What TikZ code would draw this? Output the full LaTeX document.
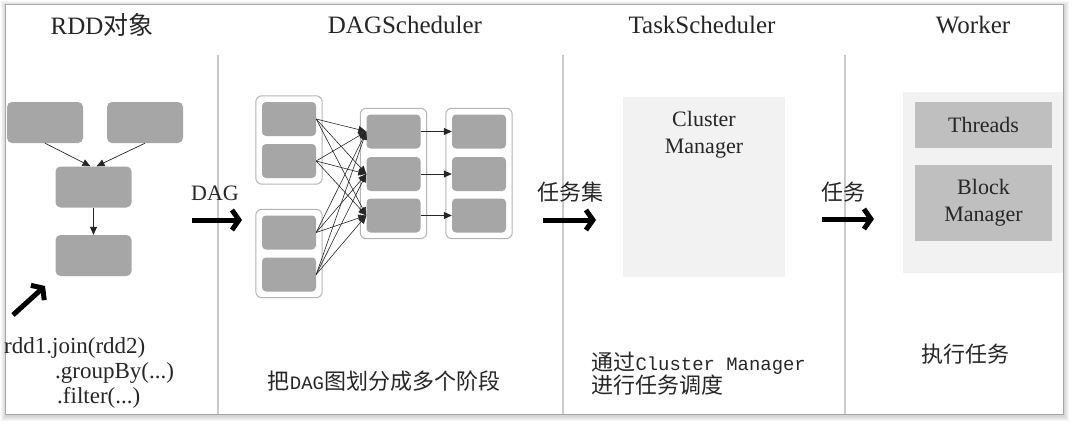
\documentclass[tikz,border=0pt]{standalone}
\usepackage{fontspec}
\setmainfont{Liberation Serif}
\newfontfamily\cjk{Noto Sans CJK SC}
\newfontfamily\halfmono{Liberation Mono}[Scale=0.86]
\usetikzlibrary{arrows.meta,positioning,calc,fit}
\definecolor{boxgray}{HTML}{A6A6A6}
\definecolor{softgray}{HTML}{BFBFBF}
\definecolor{panelgray}{HTML}{F2F2F2}
\definecolor{edgegray}{HTML}{B4B4B4}
\definecolor{sepgray}{HTML}{CACACA}
\definecolor{ink}{HTML}{262626}

\tikzset{
  rddbox/.style={fill=boxgray,rounded corners=5pt,minimum width=76pt,minimum height=41pt,inner sep=0pt},
  taskbox/.style={fill=boxgray,rounded corners=4pt,minimum width=54pt,minimum height=34pt,inner sep=0pt},
  stagebox/.style={draw=edgegray,line width=1pt,rounded corners=6pt,inner sep=6pt},
  link/.style={draw=black!85,line width=0.7pt,-{Triangle[length=8pt,width=7pt]}},
  bigarrow/.style={line width=5pt,-{Straight Barb[length=7pt,width=20pt]}},
  title/.style={font=\fontsize{25}{28}\selectfont,text=ink},
  txt/.style={font=\fontsize{22}{27}\selectfont,text=ink},
  cjktxt/.style={font=\fontsize{22}{25}\selectfont\cjk,text=ink}
}

\begin{document}
\begin{tikzpicture}[x=1pt,y=-1pt]
\useasboundingbox (0,0) rectangle (1073,428);

% frame and shadow
\foreach \w in {2,4,6,8,10}
  \draw[black,opacity=0.035,line width=\w pt] (6,6) rectangle (1064,416);
\draw[fill=white,draw=black!35,line width=1pt] (5,5) rectangle (1063,414);

% column separators
\draw[sepgray,line width=1.5pt] (218,55) -- (218,414);
\draw[sepgray,line width=1.5pt] (563,55) -- (563,414);
\draw[sepgray,line width=1.5pt] (845,55) -- (845,414);

% titles
\node[title] (tRDD)  at (102,25) {RDD{\cjk 对象}};
\node[title] (tDAG)  at (405,25) {DAGScheduler};
\node[title] (tTask) at (702,25) {TaskScheduler};
\node[title] (tWork) at (973,25) {Worker};

% RDD objects
\node[rddbox] (rddA) at (45,122.5) {};
\node[rddbox] (rddB) at (145,122.5) {};
\node[rddbox] (rddC) at (93.5,187) {};
\node[rddbox] (rddD) at (93.5,255.5) {};
\draw[link] (rddA.south) -- ([xshift=-3pt]rddC.north);
\draw[link] (rddB.south) -- ([xshift=3pt]rddC.north);
\draw[link] (rddC) -- (rddD);

\coordinate (codeTail) at (13,315);
\coordinate (codeHead) at (45,286);
\draw[bigarrow] (codeTail) -- (codeHead);
\node[txt,font=\fontsize{23}{25}\selectfont,anchor=west,inner sep=0pt] (code1) at (4,348) {rdd1.join(rdd2)};
\node[txt,font=\fontsize{23}{25}\selectfont,anchor=west,inner sep=0pt] (code2) at (55,373) {.groupBy(...)};
\node[txt,font=\fontsize{23}{25}\selectfont,anchor=west,inner sep=0pt] (code3) at (57,398) {.filter(...)};

% DAG arrow
\node[txt] (lDAG) at (215,193) {DAG};
\coordinate (dagTail) at (192,220);
\coordinate (dagHead) at (242,220);
\draw[bigarrow] (dagTail) -- (dagHead);

% stages
\node[taskbox] (a1) at (289,119) {};
\node[taskbox] (a2) at (289,161) {};
\node[taskbox] (b1) at (289,232.5) {};
\node[taskbox] (b2) at (289,274.5) {};
\node[taskbox] (c1) at (393.5,131.5) {};
\node[taskbox] (c2) at (393.5,174) {};
\node[taskbox] (c3) at (393.5,215.5) {};
\node[taskbox] (d1) at (479,131.5) {};
\node[taskbox] (d2) at (479,174) {};
\node[taskbox] (d3) at (479,215.5) {};
\node[stagebox,fit=(a1)(a2)] (stA) {};
\node[stagebox,fit=(b1)(b2)] (stB) {};
\node[stagebox,fit=(c1)(c3)] (stC) {};
\node[stagebox,fit=(d1)(d3)] (stD) {};
\foreach \s in {a1,a2,b1,b2}
  \foreach \t in {c1,c2,c3}
    \draw[link,line width=0.6pt] (\s.east) -- (\t.west);
\draw[link] (c1) -- (d1);
\draw[link] (c2) -- (d2);
\draw[link] (c3) -- (d3);
\node[cjktxt] (nDAG) at (384,381) {把{\halfmono DAG}图划分成多个阶段};

% task scheduler
\node[cjktxt] (lSet) at (570,192) {任务集};
\coordinate (setTail) at (543,220);
\coordinate (setHead) at (596,220);
\draw[bigarrow] (setTail) -- (setHead);
\node[fill=panelgray,minimum width=162pt,minimum height=180pt] (cm) at (704,187) {};
\node[txt,align=center] (cmText) at (704,134.5) {Cluster\\Manager};
\node[cjktxt,anchor=west,align=left,font=\fontsize{22}{23}\selectfont\cjk] (nTask) at (588,374)
  {通过{\halfmono Cluster Manager}\\进行任务调度};

% worker
\node[cjktxt] (lTask) at (843,192) {任务};
\coordinate (taskTail) at (822,219);
\coordinate (taskHead) at (874,219);
\draw[bigarrow] (taskTail) -- (taskHead);
\node[fill=panelgray,minimum width=160pt,minimum height=181pt] (wk) at (983,182.5) {};
\node[txt,fill=softgray,minimum width=137pt,minimum height=46pt] (thr) at (983.5,125) {Threads};
\node[txt,fill=softgray,minimum width=137pt,minimum height=76pt,align=center] (bm) at (983.5,203) {Block\\Manager};
\node[cjktxt] (nWork) at (965,354) {执行任务};
\end{tikzpicture}
\end{document}
